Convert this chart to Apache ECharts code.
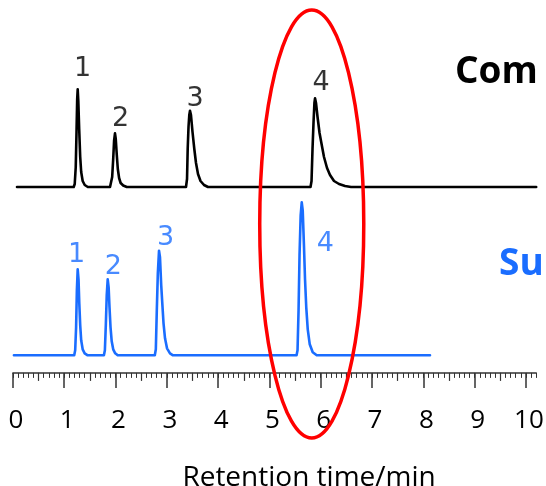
<!DOCTYPE html>
<html>
<head>
<meta charset="utf-8">
<script src="https://cdn.jsdelivr.net/npm/echarts@6/dist/echarts.min.js"></script>
<style>
  html, body { margin: 0; padding: 0; background: #fff; }
  #chart { width: 546px; height: 486px; }
</style>
</head>
<body>
<div id="chart"></div>
<script>
// Chromatogram traces: [retention time (min), signal]
const blackTrace = [
  [0.08, 0],
  [1.185, 0], [1.205, 3], [1.225, 20], [1.240, 55], [1.253, 88], [1.263, 97.7],
  [1.275, 86], [1.292, 58], [1.312, 30], [1.331, 15], [1.360, 6], [1.400, 2], [1.460, 0],
  [1.893, 0], [1.915, 2], [1.935, 10], [1.955, 28], [1.972, 46], [1.990, 53.7],
  [2.005, 48], [2.025, 32], [2.045, 18], [2.070, 9], [2.100, 4], [2.150, 1.5], [2.220, 0],
  [3.374, 0], [3.394, 8], [3.407, 38], [3.423, 60], [3.438, 72], [3.452, 76.3],
  [3.471, 72], [3.501, 55], [3.536, 38], [3.569, 24], [3.608, 13], [3.657, 6], [3.725, 2], [3.803, 0],
  [5.801, 0], [5.821, 6], [5.840, 38], [5.860, 65], [5.877, 84], [5.889, 88.7],
  [5.908, 84], [5.938, 70], [5.977, 54], [6.020, 42], [6.064, 30], [6.123, 19], [6.181, 12],
  [6.259, 6], [6.357, 3], [6.474, 1], [6.591, 0],
  [10.2, 0]
];

const blueTrace = [
  [0.02, 0],
  [1.195, 0], [1.214, 5], [1.232, 28], [1.247, 65], [1.263, 86],
  [1.279, 76], [1.294, 52], [1.312, 30], [1.331, 15], [1.360, 6], [1.399, 2], [1.458, 0],
  [1.774, 0], [1.793, 5], [1.811, 30], [1.829, 60], [1.848, 76],
  [1.866, 68], [1.883, 48], [1.903, 28], [1.926, 14], [1.955, 6], [1.994, 2], [2.043, 0],
  [2.766, 0], [2.786, 6], [2.805, 45], [2.825, 82], [2.848, 104.6],
  [2.867, 98], [2.891, 70], [2.912, 52], [2.936, 32], [2.965, 17], [3.004, 7], [3.062, 2], [3.121, 0],
  [5.529, 0], [5.548, 5], [5.568, 45], [5.587, 100], [5.609, 140], [5.630, 153],
  [5.649, 145], [5.673, 110], [5.694, 76], [5.718, 48], [5.747, 26], [5.786, 11], [5.844, 3], [5.922, 0],
  [8.13, 0]
];

// Peak apexes [retention time, signal] and their numbers
const peakNames = ['1', '2', '3', '4'];
const blackPeaks = [[1.263, 97.7], [1.990, 53.7], [3.452, 76.3], [5.889, 88.7]];
const bluePeaks = [[1.263, 86], [1.848, 76], [2.848, 104.6], [5.630, 153]];

// Axis ticks and labels
const majorTicks = [0, 1, 2, 3, 4, 5, 6, 7, 8, 9, 10];
const tickLabels = ['0', '1', '2', '3', '4', '5', '6', '7', '8', '9', '10'];
const halfTicks = [0.5, 1.5, 2.5, 3.5, 4.5, 5.5, 6.5, 7.5, 8.5, 9.5];
const tenthTicks = [];
for (let i = 0; i <= 102; i++) tenthTicks.push(i / 10);

const traceNames = ['Com', 'Su'];

// label placement relative to each apex (px)
const blackLabelOffsets = [[5, -20], [5.5, -14], [5, -12], [6, -15]];
const blueLabelOffsets = [[-1, -14], [5.6, -12], [6.7, -13], [23.6, 42]];

const BLUE = '#1a6dff';
const AXIS_COLOR = '#333';

function labelData(peaks, offsets) {
  return peaks.map((p, i) => ({
    value: p,
    name: peakNames[i],
    label: { offset: offsets[i] }
  }));
}

const chart = echarts.init(document.getElementById('chart'), null, { renderer: 'canvas' });

const gridLeft = 12.9;
const gridWidth = 523.3;

chart.setOption({
  animation: false,
  backgroundColor: '#fff',
  grid: [
    { left: gridLeft, width: gridWidth, top: 87, height: 100, outerBoundsMode: 'none', containLabel: false },
    { left: gridLeft, width: gridWidth, top: 200, height: 172.9, outerBoundsMode: 'none', containLabel: false }
  ],
  xAxis: [
    { gridIndex: 0, type: 'value', min: 0, max: 10.2, show: false },
    {
      gridIndex: 1, type: 'value', min: 0, max: 10.2, position: 'bottom',
      axisLine: { show: true, onZero: false, lineStyle: { color: AXIS_COLOR, width: 1.5 } },
      axisTick: { show: true, customValues: majorTicks, length: 15, lineStyle: { color: AXIS_COLOR, width: 1.5 } },
      axisLabel: {
        show: true, customValues: majorTicks, margin: 35,
        formatter: v => tickLabels[majorTicks.indexOf(Math.round(v))],
        color: '#000', fontFamily: 'Open Sans', fontSize: 26,
        padding: [0, 0, 0, 6]
      },
      splitLine: { show: false },
      name: 'Retention time/min',
      nameLocation: 'middle',
      nameGap: 91,
      nameTextStyle: { color: '#000', fontFamily: 'Open Sans', fontSize: 28, padding: [0, 0, 0, 69] }
    },
    {
      gridIndex: 1, type: 'value', min: 0, max: 10.2, position: 'bottom',
      axisLine: { show: false, onZero: false },
      axisTick: { show: true, customValues: halfTicks, length: 8, lineStyle: { color: AXIS_COLOR, width: 1.2 } },
      axisLabel: { show: false },
      splitLine: { show: false }
    },
    {
      gridIndex: 1, type: 'value', min: 0, max: 10.2, position: 'bottom',
      axisLine: { show: false, onZero: false },
      axisTick: { show: true, customValues: tenthTicks, length: 5, lineStyle: { color: AXIS_COLOR, width: 1 } },
      axisLabel: { show: false },
      splitLine: { show: false }
    }
  ],
  yAxis: [
    { gridIndex: 0, type: 'value', min: 0, max: 100, show: false },
    { gridIndex: 1, type: 'value', min: -17.6, max: 155.3, show: false }
  ],
  series: [
    {
      type: 'line', xAxisIndex: 0, yAxisIndex: 0, data: blackTrace,
      showSymbol: false, clip: false, smooth: false,
      lineStyle: { color: '#000', width: 2.6, join: 'round', cap: 'round' }
    },
    {
      type: 'line', xAxisIndex: 1, yAxisIndex: 1, data: blueTrace,
      showSymbol: false, clip: false, smooth: false,
      lineStyle: { color: BLUE, width: 2.6, join: 'round', cap: 'round' }
    },
    {
      type: 'scatter', xAxisIndex: 0, yAxisIndex: 0, symbolSize: 0,
      data: labelData(blackPeaks, blackLabelOffsets),
      label: {
        show: true, position: 'inside', formatter: '{b}',
        color: '#000', fontFamily: 'DejaVu Sans', fontSize: 27
      }
    },
    {
      type: 'scatter', xAxisIndex: 1, yAxisIndex: 1, symbolSize: 0,
      data: labelData(bluePeaks, blueLabelOffsets),
      label: {
        show: true, position: 'inside', formatter: '{b}',
        color: BLUE, fontFamily: 'DejaVu Sans', fontSize: 27
      }
    }
  ]
});

// Highlight ring around peak 4 of both traces, and trace titles
const cx = chart.convertToPixel({ xAxisIndex: 1 }, 5.825);
const rx = chart.convertToPixel({ xAxisIndex: 1 }, 1.014) - chart.convertToPixel({ xAxisIndex: 1 }, 0);

chart.setOption({
  graphic: [
    {
      type: 'ellipse', z: 100,
      shape: { cx: cx, cy: 224, rx: rx, ry: 214 },
      style: { fill: 'none', stroke: '#ff0000', lineWidth: 3.5 }
    },
    {
      type: 'text', z: 100, x: 455, y: 72,
      style: { text: traceNames[0], font: 'bold 37px "Open Sans"', fill: '#000', verticalAlign: 'middle' }
    },
    {
      type: 'text', z: 100, x: 499, y: 264,
      style: { text: traceNames[1], font: 'bold 37px "Open Sans"', fill: BLUE, verticalAlign: 'middle' }
    }
  ]
});
</script>
</body>
</html>
